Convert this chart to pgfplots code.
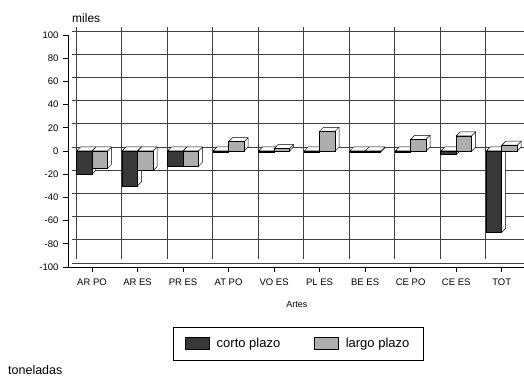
\documentclass[border=0pt]{standalone}
\usepackage{fontspec}
\setmainfont{Liberation Sans}
\usepackage{pgfplots}
\pgfplotsset{compat=1.18}
\definecolor{dark}{gray}{0.22}
\definecolor{lgray}{gray}{0.68}
% a 3D bar (front, top and side faces), drawn at the value point of each bar
\newcommand{\defboxmark}[4]{%
\pgfdeclareplotmark{#1}{%
  \pgfmathsetmacro{\myhh}{\rawy*1.16}%
  \pgfmathsetmacro{\myyt}{max(0,-\myhh)}%
  \pgfmathsetmacro{\myyb}{min(0,-\myhh)}%
  \pgfsetlinewidth{0.5pt}\pgfsetstrokecolor{black}\pgfsetfillcolor{white}%
  \pgfpathmoveto{\pgfpoint{#2pt}{\myyt pt}}%
  \pgfpathlineto{\pgfpoint{#2pt+4pt}{\myyt pt+4pt}}%
  \pgfpathlineto{\pgfpoint{#3pt+4pt}{\myyt pt+4pt}}%
  \pgfpathlineto{\pgfpoint{#3pt+4pt}{\myyb pt+4pt}}%
  \pgfpathlineto{\pgfpoint{#3pt}{\myyb pt}}%
  \pgfpathlineto{\pgfpoint{#3pt}{\myyt pt}}%
  \pgfpathclose
  \pgfusepath{fill,stroke}%
  \pgfpathmoveto{\pgfpoint{#3pt}{\myyt pt}}%
  \pgfpathlineto{\pgfpoint{#3pt+4pt}{\myyt pt+4pt}}%
  \pgfusepath{stroke}%
  \pgfsetfillcolor{#4}%
  \pgfpathrectanglecorners{\pgfpoint{#2pt}{\myyb pt}}{\pgfpoint{#3pt}{\myyt pt}}%
  \pgfusepath{fill,stroke}%
}}
\defboxmark{boxL}{-15.5}{0}{dark}
\defboxmark{boxR}{0}{15.5}{lgray}
\begin{document}
\begin{tikzpicture}[x=1pt,y=1pt]
\path[use as bounding box] (0,0) rectangle (524,377);
\begin{axis}[
  at={(68pt,110pt)}, anchor=south west,
  scale only axis, width=456pt, height=232pt,
  xmin=-0.527, xmax=9.49, ymin=-100, ymax=100,
  axis x line*=bottom, axis y line*=left,
  axis line style={black, line width=0.7pt},
  xtick={0,...,9},
  xticklabels={AR PO,AR ES,PR ES,AT PO,VO ES,PL ES,BE ES,CE PO,CE ES,TOT},
  minor xtick={-0.527,0.47,1.47,2.47,3.47,4.47,5.47,6.47,7.47,8.47},
  ytick={-100,-80,...,100},
  xminorgrids, ymajorgrids,
  grid style={black!75, line width=0.6pt, xshift=4pt, yshift=4pt},
  minor grid style={black!75, line width=0.6pt, xshift=4pt, yshift=4pt},
  tick align=outside, major tick length=5pt, minor tick length=0pt,
  tick style={black, line width=0.6pt},
  /pgf/number format/assume math mode=true,
  ticklabel style={font=\fontsize{9.5}{11}\selectfont},
  xticklabel style={yshift=-3pt},
  yticklabel style={xshift=-1pt},
  xlabel={Artes},
  xlabel style={font=\fontsize{9}{10}\selectfont, at={(axis description cs:0.502,-0.16)}, anchor=center},
  legend columns=2,
  legend image code/.code={\draw[#1] (0pt,-6pt) rectangle (24pt,6pt);},
  legend style={at={(axis description cs:0.505,-0.33)}, anchor=center, draw=black, line width=0.6pt,
    font=\fontsize{13}{15}\selectfont, inner xsep=12pt, inner ysep=9pt,
    nodes={inner sep=2pt},
    /tikz/every odd column/.append style={column sep=5pt},
    /tikz/every even column/.append style={column sep=32pt}},
  legend cell align=left,
]
% front faces as bars
\addplot[ybar, bar width=15.5pt, bar shift=-7.75pt, fill=dark, draw=black, line width=0.5pt]
  coordinates {(0,-20) (1,-30) (2,-13) (3,-1) (4,-1) (5,-1) (6,-1) (7,-1) (8,-3) (9,-70)};
\addlegendentry{corto plazo}
\addplot[ybar, bar width=15.5pt, bar shift=7.75pt, fill=lgray, draw=black, line width=0.5pt]
  coordinates {(0,-15) (1,-17) (2,-13) (3,8) (4,2) (5,17) (6,-1) (7,10) (8,13) (9,5)};
\addlegendentry{largo plazo}
% 3D boxes (corto first, then largo in front of its side)
\addplot[only marks, mark=boxL, visualization depends on={rawy \as \rawy}, forget plot]
  coordinates {(0,-20) (1,-30) (2,-13) (3,-1) (4,-1) (5,-1) (6,-1) (7,-1) (8,-3) (9,-70)};
\addplot[only marks, mark=boxR, visualization depends on={rawy \as \rawy}, forget plot]
  coordinates {(0,-15) (1,-17) (2,-13) (3,8) (4,2) (5,17) (6,-1) (7,10) (8,13) (9,5)};
\end{axis}
\node[anchor=base west, font=\fontsize{12}{14}\selectfont, inner sep=0pt] at (72,354) {miles};
\node[anchor=base west, font=\fontsize{12.5}{14}\selectfont, inner sep=0pt] at (8,2) {toneladas};
\end{tikzpicture}
\end{document}
